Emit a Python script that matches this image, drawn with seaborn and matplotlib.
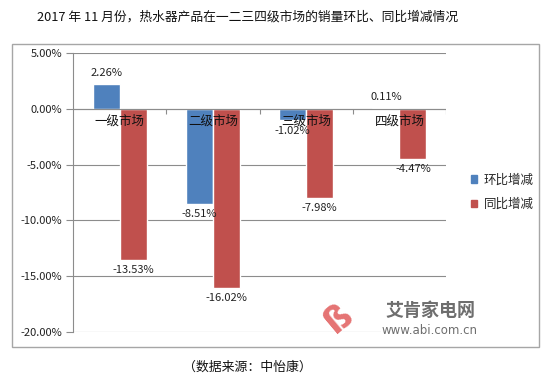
import matplotlib
matplotlib.use("Agg")
import matplotlib.pyplot as plt
from matplotlib.patches import Rectangle
from matplotlib.ticker import FuncFormatter, MultipleLocator
import seaborn as sns
import pandas as pd

# data (percent)
markets = ["一级市场", "二级市场", "三级市场", "四级市场"]
series_names = ["环比增减", "同比增减"]
mom = [2.26, -8.51, -1.02, 0.11]
yoy = [-13.53, -16.02, -7.98, -4.47]
colors = ["#4F81BD", "#C0504D"]

title = "2017 年 11 月份，热水器产品在一二三四级市场的销量环比、同比增减情况"
source = "（数据来源：中怡康）"

df = pd.DataFrame({
    "market": markets * 2,
    "series": [series_names[0]] * 4 + [series_names[1]] * 4,
    "value": mom + yoy,
})

sns.set_style("white")
plt.rcParams["font.family"] = ["Noto Sans CJK SC", "DejaVu Sans"]
plt.rcParams["axes.unicode_minus"] = False

fig = plt.figure(figsize=(5.5, 3.87), dpi=100)
ax = fig.add_axes([73 / 550, 1 - 332 / 387, 373 / 550, 279 / 387])

sns.barplot(data=df, x="market", y="value", hue="series", palette=colors,
            width=0.58, saturation=1, ax=ax, legend=False, zorder=3)

ax.set_ylim(-20, 5)
ax.set_xlim(-0.5, 3.5)
ax.yaxis.set_major_locator(MultipleLocator(5))
ax.yaxis.set_major_formatter(FuncFormatter(lambda v, p: f"{v:.2f}%"))
ax.grid(axis="y", color="#8C8C8C", linewidth=0.8, zorder=0)
ax.tick_params(axis="y", labelsize=8, length=5, color="#8C8C8C", direction="out",
               left=True, pad=3, labelcolor="#222222")
ax.set_xticks([])
ax.set_xlabel("")
ax.set_ylabel("")
for s in ["top", "right", "bottom"]:
    ax.spines[s].set_visible(False)
ax.spines["left"].set_color("#8C8C8C")
ax.spines["left"].set_linewidth(0.8)

# zero axis line and category ticks
ax.axhline(0, color="#8C8C8C", linewidth=0.8, zorder=4)
ax.vlines([0.5, 1.5, 2.5, 3.5], 0, -0.45, color="#8C8C8C", linewidth=0.8, zorder=4)

for cont in ax.containers:
    ax.bar_label(cont, labels=[f"{v:.2f}%" for v in cont.datavalues],
                 padding=4, fontsize=8, color="#222222", zorder=6)

for i, m in enumerate(markets):
    ax.annotate(m, (i, 0), xytext=(0, -4), textcoords="offset points",
                ha="center", va="top", fontsize=9, color="#111111", zorder=7)

# legend
handles = [Rectangle((0, 0), 1, 1, color=c) for c in colors]
fig.legend(handles, series_names, loc="center left",
           bbox_to_anchor=(460 / 550, 1 - 192 / 387), frameon=False,
           fontsize=9, handlelength=0.5, handleheight=0.5, handletextpad=0.5,
           labelspacing=0.9)

# outer chart box
fig.patches.append(Rectangle((12 / 550, 1 - 347 / 387), 527 / 550, 303 / 387,
                             transform=fig.transFigure, fill=False,
                             edgecolor="#A6A6A6", linewidth=1))

# watermark
fig.text(338 / 550, 1 - 318 / 387, "ß", rotation=40, fontsize=26, color="#E57373",
         ha="center", va="center", fontweight="bold", family="DejaVu Sans")
fig.text(430 / 550, 1 - 310 / 387, "艾肯家电网", fontsize=13, color="#6E6E6E",
         ha="center", va="center", fontweight="bold")
fig.text(430 / 550, 1 - 330 / 387, "www.abi.com.cn", fontsize=8.5, color="#6E6E6E",
         ha="center", va="center", family="DejaVu Sans",
         bbox=dict(facecolor="white", edgecolor="none", pad=1))

fig.text(248 / 550, 1 - 17 / 387, title, fontsize=9.2, ha="center", va="center",
         color="#111111")
fig.text(247 / 550, 1 - 367 / 387, source, fontsize=9.3, ha="center", va="center",
         color="#111111")

fig.savefig("out.png", dpi=100)
plt.close(fig)
